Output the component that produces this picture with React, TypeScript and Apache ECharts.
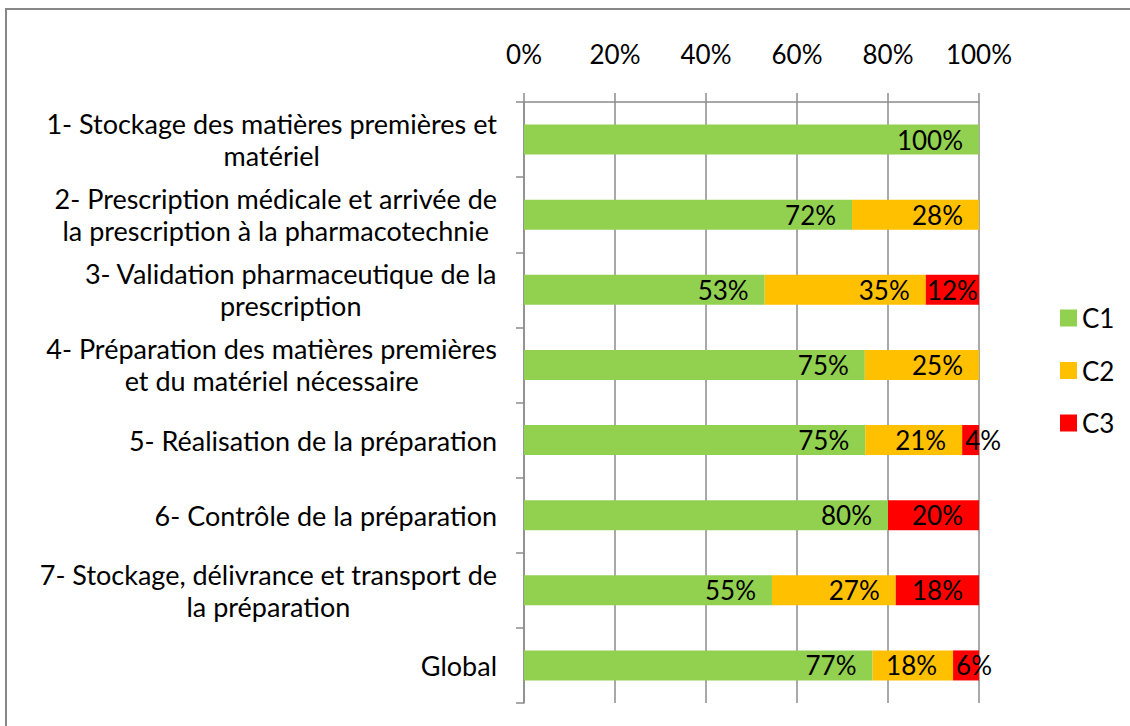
import React, { useEffect, useRef } from "react";
import * as echarts from "echarts";

const categories = [
  "1- Stockage des matières premières et\nmatériel",
  "2- Prescription médicale et arrivée de\nla prescription à la pharmacotechnie",
  "3- Validation pharmaceutique de la\nprescription",
  "4- Préparation des matières premières\net du matériel nécessaire",
  "5- Réalisation de la préparation",
  "6- Contrôle de la préparation",
  "7- Stockage, délivrance et transport de\nla préparation",
  "Global",
];
const c1 = [100, 72.1, 52.9, 74.9, 75, 80, 54.5, 76.6];
const c2 = [0, 27.9, 35.4, 25.1, 21.3, 0, 27.2, 17.7];
const c3 = [0, 0, 11.7, 0, 3.7, 20, 18.3, 5.7];
const seriesNames = ["C1", "C2", "C3"];
const colors = ["#92D050", "#FFC000", "#FF0000"];
const xTicks = [0, 20, 40, 60, 80, 100];

const FONT = "Lato, 'Open Sans', sans-serif";

export default function App() {
  const ref = useRef<HTMLDivElement>(null);
  useEffect(() => {
    if (!ref.current) return;
    const chart = echarts.init(ref.current, null, { renderer: "svg" });
    const mkData = (vals: number[]) =>
      vals.map((v) => {
        if (v === 0) return { value: v, label: { show: false } };
        if (v < 8) return { value: v, label: { position: "insideLeft", distance: 3 } };
        if (v < 14) return { value: v, label: { position: "inside" } };
        return { value: v };
      });
    const series = [c1, c2, c3].map((vals, i) => ({
      name: seriesNames[i],
      type: "bar",
      stack: "total",
      barWidth: "40%",
      itemStyle: { color: colors[i] },
      label: {
        show: true,
        position: "insideRight",
        distance: 16,
        color: "#000",
        fontSize: 26,
        fontFamily: FONT,
        formatter: (p: any) => `${Math.round(p.value)}%`,
      },
      data: mkData(vals),
    }));
    chart.setOption({
      animation: false,
      backgroundColor: "#fff",
      textStyle: { fontFamily: FONT },
      graphic: [
        {
          type: "rect",
          shape: { x: 6, y: 9, width: 1150, height: 740 },
          style: { fill: "none", stroke: "#888", lineWidth: 2 },
          silent: true,
        },
      ],
      legend: {
        orient: "vertical",
        left: 1055,
        top: 300,
        itemWidth: 17,
        itemHeight: 17,
        itemGap: 26.5,
        icon: "rect",
        data: seriesNames,
        textStyle: { color: "#000", fontSize: 26, fontFamily: FONT },
      },
      grid: { left: 524, right: 151, top: 102, bottom: 23, containLabel: false },
      xAxis: {
        type: "value",
        position: "top",
        min: xTicks[0],
        max: xTicks[xTicks.length - 1],
        interval: xTicks[1] - xTicks[0],
        axisLine: { show: true, lineStyle: { color: "#8C8C8C", width: 1.5 } },
        axisTick: { show: true, inside: false, length: 9, lineStyle: { color: "#8C8C8C", width: 1.5 } },
        splitLine: { show: true, lineStyle: { color: "#8C8C8C", width: 1.5 } },
        axisLabel: {
          color: "#000",
          fontSize: 26,
          fontFamily: FONT,
          margin: 35,
          formatter: "{value}%",
        },
      },
      yAxis: {
        type: "category",
        inverse: true,
        data: categories,
        axisLine: { show: true, lineStyle: { color: "#8C8C8C", width: 1.5 } },
        axisTick: { show: true, length: 8, lineStyle: { color: "#8C8C8C", width: 1.5 } },
        splitLine: { show: false },
        axisLabel: {
          margin: 27,
          formatter: (v: string) => `{c|${v}}`,
          rich: {
            c: {
              align: "center",
              fontSize: 27,
              lineHeight: 32,
              color: "#000",
              fontFamily: FONT,
            },
          },
        },
      },
      series,
    });
    return () => chart.dispose();
  }, []);
  return (
    <div
      ref={ref}
      style={{ position: "fixed", left: 0, top: 0, width: 1130, height: 726 }}
    />
  );
}
